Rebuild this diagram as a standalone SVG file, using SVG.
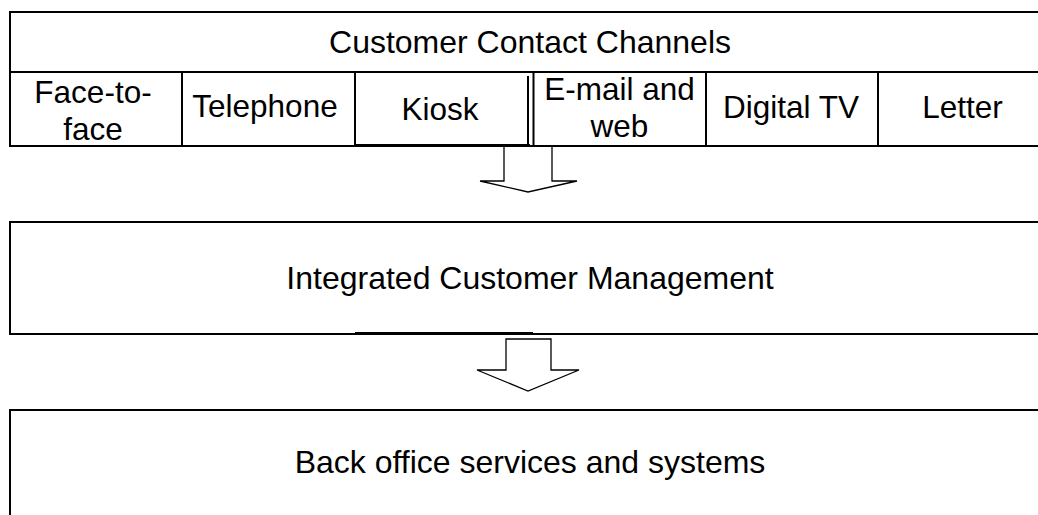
<svg xmlns="http://www.w3.org/2000/svg" width="1038" height="515" viewBox="0 0 1038 515">
  <style>
    .box { fill: #ffffff; stroke: #000000; stroke-width: 2; }
    .ln { stroke: #000000; stroke-width: 2; fill: none; }
    .thick { stroke: #000000; stroke-width: 3; fill: none; }
    .lbl { font-family: "Liberation Sans", Arial, sans-serif; font-size: 31.5px; fill: #000000; text-anchor: middle; }
    .big { font-family: "Liberation Sans", Arial, sans-serif; font-size: 32px; fill: #000000; text-anchor: middle; }
    .blk { fill: #ffffff; stroke: #000000; stroke-width: 1.3; stroke-linejoin: miter; }
  </style>
  <rect width="1038" height="515" fill="#ffffff"/>

  <g id="connectors">
    <polygon class="blk" points="504,146 552,146 552,181 577,181 528,192 480,181 504,181"/>
    <polygon class="blk" points="506,339 551,339 551,370 579,370 528,391 477,370 506,370"/>
  </g>

  <g id="channels">
    <rect class="box" x="10" y="12" width="1040" height="134"/>
    <line class="ln" x1="10" y1="72" x2="1050" y2="72"/>
    <text class="big" x="530" y="53">Customer Contact Channels</text>
  </g>

  <g id="face-to-face">
    <text class="lbl" x="93" y="103">Face-to-</text>
    <text class="lbl" x="93" y="140">face</text>
  </g>
  <g id="telephone">
    <line class="ln" x1="182" y1="72" x2="182" y2="146"/>
    <text class="lbl" x="265" y="117">Telephone</text>
  </g>
  <g id="kiosk">
    <line class="ln" x1="355" y1="72" x2="355" y2="146"/>
    <line class="ln" x1="528" y1="76" x2="528" y2="146"/>
    <line class="thick" x1="355" y1="145.5" x2="530" y2="145.5"/>
    <text class="lbl" x="440" y="120">Kiosk</text>
  </g>
  <g id="email-web">
    <line class="ln" x1="533.5" y1="72" x2="533.5" y2="146"/>
    <text class="lbl" x="619.5" y="100">E-mail and</text>
    <text class="lbl" x="619.5" y="137">web</text>
  </g>
  <g id="digital-tv">
    <line class="ln" x1="706" y1="72" x2="706" y2="146"/>
    <text class="lbl" x="791" y="118">Digital TV</text>
  </g>
  <g id="letter">
    <line class="ln" x1="878" y1="72" x2="878" y2="146"/>
    <text class="lbl" x="962.5" y="118">Letter</text>
  </g>

  <g id="integrated-customer-management">
    <rect class="box" x="10" y="222" width="1040" height="112"/>
    <line class="thick" x1="355" y1="333.5" x2="533" y2="333.5"/>
    <text class="big" x="530" y="289">Integrated Customer Management</text>
  </g>

  <g id="back-office">
    <rect class="box" x="10" y="410" width="1040" height="112"/>
    <text class="big" x="530" y="473">Back office services and systems</text>
  </g>
</svg>
